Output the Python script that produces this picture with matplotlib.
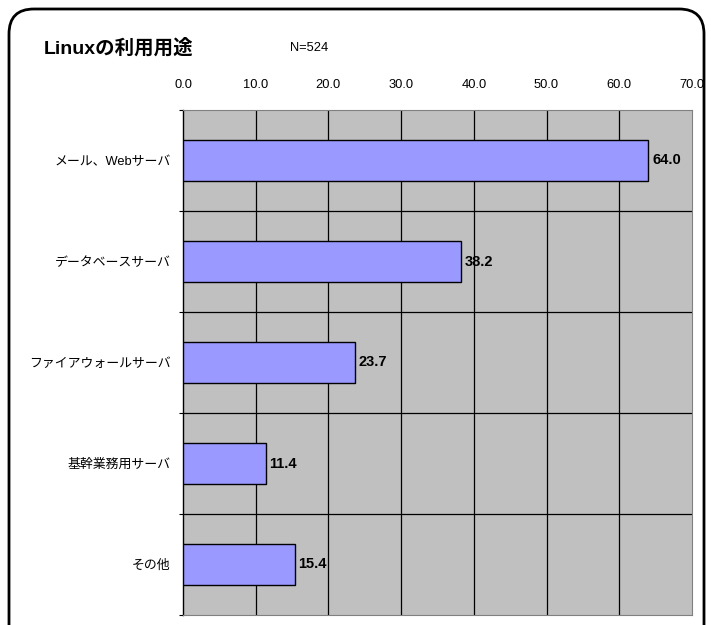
import matplotlib
matplotlib.use("Agg")
import matplotlib.pyplot as plt
from matplotlib.patches import FancyBboxPatch

plt.rcParams['font.family'] = ['Liberation Sans', 'Noto Sans CJK JP', 'DejaVu Sans']

categories = ["メール、Webサーバ", "データベースサーバ", "ファイアウォールサーバ", "基幹業務用サーバ", "その他"]
values = [64.0, 38.2, 23.7, 11.4, 15.4]
xticks = [0, 10, 20, 30, 40, 50, 60, 70]
xticklabels = ["0.0", "10.0", "20.0", "30.0", "40.0", "50.0", "60.0", "70.0"]

fig = plt.figure(figsize=(7.11, 6.25), dpi=100)
ax = fig.add_axes([183/711, 1-615/625, (692-183)/711, (615-110)/625])
ax.set_facecolor("#C0C0C0")

ypos = list(range(len(categories)))
ax.barh(ypos, values, height=0.4, color="#9999FF", edgecolor="black", linewidth=1, zorder=3)
ax.set_ylim(len(categories)-0.5, -0.5)
ax.set_xlim(0, 70)

for x in xticks[1:-1]:
    ax.axvline(x, color="black", linewidth=0.9, zorder=1)
for b in range(1, len(categories)):
    ax.axhline(b-0.5, color="black", linewidth=0.9, zorder=1)

ax.xaxis.tick_top()
ax.set_xticks(xticks)
ax.set_xticklabels(xticklabels, fontsize=9.3)
ax.tick_params(axis='x', length=0, pad=14)
ax.set_yticks(ypos)
ax.set_yticklabels(categories, fontsize=9.3)
ax.tick_params(axis='y', length=0, pad=9)
ax.set_yticks([b-0.5 for b in range(len(categories)+1)], minor=True)
ax.tick_params(axis='y', which='minor', length=3, width=0.8, direction='out')

for s in ['top', 'right', 'bottom']:
    ax.spines[s].set_color("#808080")
    ax.spines[s].set_linewidth(0.8)
ax.spines['left'].set_color("black")
ax.spines['left'].set_linewidth(1)

for y, v in zip(ypos, values):
    ax.text(v + 0.5, y, f"{v:.1f}", va='center', ha='left', fontsize=10.5, fontweight='bold', zorder=4)

fig.text(44/711, 1-48/625, "Linuxの利用用途", fontsize=14, fontweight='bold', va='center', ha='left')
fig.text(290/711, 1-48/625, "N=524", fontsize=9.3, va='center', ha='left')

border = FancyBboxPatch((9/711, -0.05), (704-9)/711, 1.05 - 9/625,
                        boxstyle="round,pad=0,rounding_size=0.035",
                        transform=fig.transFigure, fill=False, edgecolor="black", linewidth=2,
                        mutation_aspect=711/625)
fig.patches.append(border)

fig.savefig("out.png", dpi=100)
